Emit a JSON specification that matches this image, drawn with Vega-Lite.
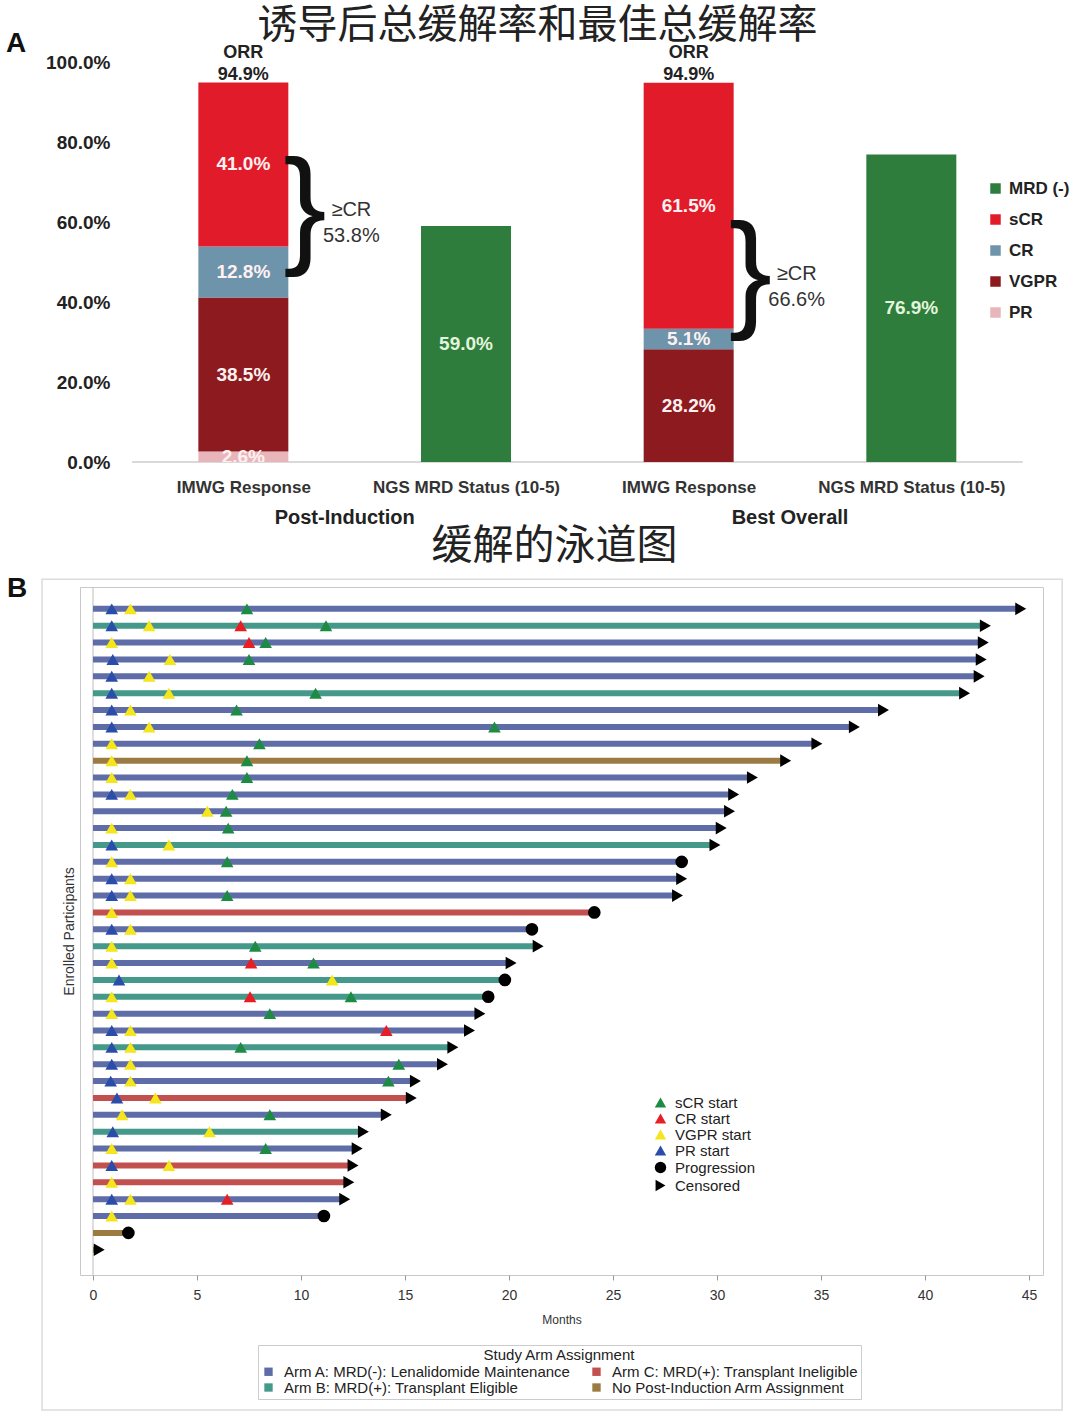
{
  "$schema": "https://vega.github.io/schema/vega-lite/v6.json",
  "background": "white",
  "padding": {"left": 6, "top": 6, "right": 0, "bottom": 0},
  "bounds": "flush",
  "center": false,
  "spacing": 125,
  "resolve": {"scale": {"color": "independent", "fill": "independent", "shape": "independent"}, "legend": {"color": "independent", "fill": "independent", "shape": "independent"}},
  "config": {"font": "Liberation Sans", "view": {"stroke": null}, "axis": {"grid": false}},
  "datasets": {
    "resp": [
      {"pos": 1, "cat": "PR", "ord": 1, "v": 0.026},
      {"pos": 1, "cat": "VGPR", "ord": 2, "v": 0.385},
      {"pos": 1, "cat": "CR", "ord": 3, "v": 0.128},
      {"pos": 1, "cat": "sCR", "ord": 4, "v": 0.410},
      {"pos": 2, "cat": "MRD (-)", "ord": 5, "v": 0.590},
      {"pos": 3, "cat": "VGPR", "ord": 2, "v": 0.282},
      {"pos": 3, "cat": "CR", "ord": 3, "v": 0.051},
      {"pos": 3, "cat": "sCR", "ord": 4, "v": 0.615},
      {"pos": 4, "cat": "MRD (-)", "ord": 5, "v": 0.769}
    ],
    "orr": [{"pos": 1, "v": 0.949}, {"pos": 3, "v": 0.949}],
    "braces": [{"pos": 1, "mid": 0.628, "pct": 0.538}, {"pos": 3, "mid": 0.4675, "pct": 0.666}],
    "groups": [{"pos": 1.5, "label": "Post-Induction"}, {"pos": 3.5, "label": "Best Overall"}],
    "subjects": [
      {"row": 1, "arm": "A", "end": 44.6}, {"row": 2, "arm": "B", "end": 42.9}, {"row": 3, "arm": "A", "end": 42.8},
      {"row": 4, "arm": "A", "end": 42.7}, {"row": 5, "arm": "A", "end": 42.6}, {"row": 6, "arm": "B", "end": 41.9},
      {"row": 7, "arm": "A", "end": 38.0}, {"row": 8, "arm": "A", "end": 36.6}, {"row": 9, "arm": "A", "end": 34.8},
      {"row": 10, "arm": "N", "end": 33.3}, {"row": 11, "arm": "A", "end": 31.7}, {"row": 12, "arm": "A", "end": 30.8},
      {"row": 13, "arm": "A", "end": 30.6}, {"row": 14, "arm": "A", "end": 30.2}, {"row": 15, "arm": "B", "end": 29.9},
      {"row": 16, "arm": "A", "end": 28.3}, {"row": 17, "arm": "A", "end": 28.3}, {"row": 18, "arm": "A", "end": 28.1},
      {"row": 19, "arm": "C", "end": 24.1}, {"row": 20, "arm": "A", "end": 21.1}, {"row": 21, "arm": "B", "end": 21.4},
      {"row": 22, "arm": "A", "end": 20.1}, {"row": 23, "arm": "B", "end": 19.8}, {"row": 24, "arm": "B", "end": 19.0},
      {"row": 25, "arm": "A", "end": 18.6}, {"row": 26, "arm": "A", "end": 18.1}, {"row": 27, "arm": "B", "end": 17.3},
      {"row": 28, "arm": "A", "end": 16.8}, {"row": 29, "arm": "A", "end": 15.5}, {"row": 30, "arm": "C", "end": 15.3},
      {"row": 31, "arm": "A", "end": 14.1}, {"row": 32, "arm": "B", "end": 13.0}, {"row": 33, "arm": "A", "end": 12.7},
      {"row": 34, "arm": "C", "end": 12.5}, {"row": 35, "arm": "C", "end": 12.3}, {"row": 36, "arm": "A", "end": 12.1},
      {"row": 37, "arm": "A", "end": 11.1}, {"row": 38, "arm": "N", "end": 1.7}, {"row": 39, "arm": "N", "end": 0.3}
    ],
    "events": [
      {"r": 1, "t": 0.9, "e": "PR"}, {"r": 1, "t": 1.8, "e": "VGPR"}, {"r": 1, "t": 7.4, "e": "sCR"}, {"r": 1, "t": 44.6, "e": "Cens"},
      {"r": 2, "t": 0.9, "e": "PR"}, {"r": 2, "t": 2.7, "e": "VGPR"}, {"r": 2, "t": 7.1, "e": "CR"}, {"r": 2, "t": 11.2, "e": "sCR"}, {"r": 2, "t": 42.9, "e": "Cens"},
      {"r": 3, "t": 0.9, "e": "VGPR"}, {"r": 3, "t": 7.5, "e": "CR"}, {"r": 3, "t": 8.3, "e": "sCR"}, {"r": 3, "t": 42.8, "e": "Cens"},
      {"r": 4, "t": 0.95, "e": "PR"}, {"r": 4, "t": 3.7, "e": "VGPR"}, {"r": 4, "t": 7.5, "e": "sCR"}, {"r": 4, "t": 42.7, "e": "Cens"},
      {"r": 5, "t": 0.9, "e": "PR"}, {"r": 5, "t": 2.7, "e": "VGPR"}, {"r": 5, "t": 42.6, "e": "Cens"},
      {"r": 6, "t": 0.9, "e": "PR"}, {"r": 6, "t": 3.65, "e": "VGPR"}, {"r": 6, "t": 10.7, "e": "sCR"}, {"r": 6, "t": 41.9, "e": "Cens"},
      {"r": 7, "t": 0.9, "e": "PR"}, {"r": 7, "t": 1.8, "e": "VGPR"}, {"r": 7, "t": 6.9, "e": "sCR"}, {"r": 7, "t": 38.0, "e": "Cens"},
      {"r": 8, "t": 0.9, "e": "PR"}, {"r": 8, "t": 2.7, "e": "VGPR"}, {"r": 8, "t": 19.3, "e": "sCR"}, {"r": 8, "t": 36.6, "e": "Cens"},
      {"r": 9, "t": 0.9, "e": "VGPR"}, {"r": 9, "t": 8.0, "e": "sCR"}, {"r": 9, "t": 34.8, "e": "Cens"},
      {"r": 10, "t": 0.9, "e": "VGPR"}, {"r": 10, "t": 7.4, "e": "sCR"}, {"r": 10, "t": 33.3, "e": "Cens"},
      {"r": 11, "t": 0.9, "e": "VGPR"}, {"r": 11, "t": 7.4, "e": "sCR"}, {"r": 11, "t": 31.7, "e": "Cens"},
      {"r": 12, "t": 0.9, "e": "PR"}, {"r": 12, "t": 1.8, "e": "VGPR"}, {"r": 12, "t": 6.7, "e": "sCR"}, {"r": 12, "t": 30.8, "e": "Cens"},
      {"r": 13, "t": 5.5, "e": "VGPR"}, {"r": 13, "t": 6.4, "e": "sCR"}, {"r": 13, "t": 30.6, "e": "Cens"},
      {"r": 14, "t": 0.9, "e": "VGPR"}, {"r": 14, "t": 6.5, "e": "sCR"}, {"r": 14, "t": 30.2, "e": "Cens"},
      {"r": 15, "t": 0.9, "e": "PR"}, {"r": 15, "t": 3.65, "e": "VGPR"}, {"r": 15, "t": 29.9, "e": "Cens"},
      {"r": 16, "t": 0.9, "e": "VGPR"}, {"r": 16, "t": 6.45, "e": "sCR"}, {"r": 16, "t": 28.3, "e": "Prog"},
      {"r": 17, "t": 0.9, "e": "PR"}, {"r": 17, "t": 1.8, "e": "VGPR"}, {"r": 17, "t": 28.3, "e": "Cens"},
      {"r": 18, "t": 0.9, "e": "PR"}, {"r": 18, "t": 1.8, "e": "VGPR"}, {"r": 18, "t": 6.45, "e": "sCR"}, {"r": 18, "t": 28.1, "e": "Cens"},
      {"r": 19, "t": 0.9, "e": "VGPR"}, {"r": 19, "t": 24.1, "e": "Prog"},
      {"r": 20, "t": 0.9, "e": "PR"}, {"r": 20, "t": 1.8, "e": "VGPR"}, {"r": 20, "t": 21.1, "e": "Prog"},
      {"r": 21, "t": 0.9, "e": "VGPR"}, {"r": 21, "t": 7.8, "e": "sCR"}, {"r": 21, "t": 21.4, "e": "Cens"},
      {"r": 22, "t": 0.9, "e": "VGPR"}, {"r": 22, "t": 7.6, "e": "CR"}, {"r": 22, "t": 10.6, "e": "sCR"}, {"r": 22, "t": 20.1, "e": "Cens"},
      {"r": 23, "t": 1.25, "e": "PR"}, {"r": 23, "t": 11.5, "e": "VGPR"}, {"r": 23, "t": 19.8, "e": "Prog"},
      {"r": 24, "t": 0.9, "e": "VGPR"}, {"r": 24, "t": 7.55, "e": "CR"}, {"r": 24, "t": 12.4, "e": "sCR"}, {"r": 24, "t": 19.0, "e": "Prog"},
      {"r": 25, "t": 0.9, "e": "VGPR"}, {"r": 25, "t": 8.5, "e": "sCR"}, {"r": 25, "t": 18.6, "e": "Cens"},
      {"r": 26, "t": 0.9, "e": "PR"}, {"r": 26, "t": 1.8, "e": "VGPR"}, {"r": 26, "t": 14.1, "e": "CR"}, {"r": 26, "t": 18.1, "e": "Cens"},
      {"r": 27, "t": 0.9, "e": "PR"}, {"r": 27, "t": 1.8, "e": "VGPR"}, {"r": 27, "t": 7.1, "e": "sCR"}, {"r": 27, "t": 17.3, "e": "Cens"},
      {"r": 28, "t": 0.9, "e": "PR"}, {"r": 28, "t": 1.8, "e": "VGPR"}, {"r": 28, "t": 14.7, "e": "sCR"}, {"r": 28, "t": 16.8, "e": "Cens"},
      {"r": 29, "t": 0.85, "e": "PR"}, {"r": 29, "t": 1.8, "e": "VGPR"}, {"r": 29, "t": 14.2, "e": "sCR"}, {"r": 29, "t": 15.5, "e": "Cens"},
      {"r": 30, "t": 1.15, "e": "PR"}, {"r": 30, "t": 3.0, "e": "VGPR"}, {"r": 30, "t": 15.3, "e": "Cens"},
      {"r": 31, "t": 1.4, "e": "VGPR"}, {"r": 31, "t": 8.5, "e": "sCR"}, {"r": 31, "t": 14.1, "e": "Cens"},
      {"r": 32, "t": 0.95, "e": "PR"}, {"r": 32, "t": 5.6, "e": "VGPR"}, {"r": 32, "t": 13.0, "e": "Cens"},
      {"r": 33, "t": 0.9, "e": "VGPR"}, {"r": 33, "t": 8.3, "e": "sCR"}, {"r": 33, "t": 12.7, "e": "Cens"},
      {"r": 34, "t": 0.9, "e": "PR"}, {"r": 34, "t": 3.65, "e": "VGPR"}, {"r": 34, "t": 12.5, "e": "Cens"},
      {"r": 35, "t": 0.9, "e": "VGPR"}, {"r": 35, "t": 12.3, "e": "Cens"},
      {"r": 36, "t": 0.9, "e": "PR"}, {"r": 36, "t": 1.8, "e": "VGPR"}, {"r": 36, "t": 6.45, "e": "CR"}, {"r": 36, "t": 12.1, "e": "Cens"},
      {"r": 37, "t": 0.9, "e": "VGPR"}, {"r": 37, "t": 11.1, "e": "Prog"},
      {"r": 38, "t": 1.7, "e": "Prog"},
      {"r": 39, "t": 0.3, "e": "Cens"}
    ]
  },
  "vconcat": [
    {
      "width": 963,
      "height": 400,
      "title": {"text": "诱导后总缓解率和最佳总缓解率", "font": "Noto Sans CJK SC", "fontSize": 40, "fontWeight": "normal", "color": "#222", "anchor": "middle", "frame": "group", "dx": -24, "offset": -16},
      "layer": [
        {
          "data": {"values": [{}]},
          "mark": {"type": "rule", "color": "#d9d9d9", "strokeWidth": 2},
          "encoding": {
            "x": {"datum": 0.5, "type": "quantitative", "scale": {"domain": [0.2889, 4.5689], "nice": false, "zero": false}},
            "x2": {"datum": 4.5},
            "y": {"datum": 0, "type": "quantitative"}
          }
        },
        {
          "data": {"name": "resp"},
          "transform": [{"stack": "v", "groupby": ["pos"], "sort": [{"field": "ord"}], "as": ["y0", "y1"]}],
          "mark": {"type": "bar", "size": 90},
          "encoding": {
            "x": {"field": "pos", "type": "quantitative",
              "axis": {"values": [1, 2, 3, 4], "labelExpr": "datum.value % 2 == 1 ? 'IMWG Response' : 'NGS MRD Status (10-5)'", "title": null, "domain": false, "ticks": false, "labelFontWeight": "bold", "labelFontSize": 17, "labelColor": "#333", "labelPadding": 17, "labelLimit": 400, "labelOverlap": false}},
            "y": {"field": "y0", "type": "quantitative", "scale": {"domain": [0, 1], "nice": false},
              "axis": {"values": [0, 0.1, 0.2, 0.3, 0.4, 0.5, 0.6, 0.7, 0.8, 0.9, 1.0], "format": ".1%", "title": null, "domain": false, "ticks": false, "labelFontWeight": "bold", "labelFontSize": 19, "labelColor": "#222", "offset": -30, "labelPadding": 0, "labelOverlap": false}},
            "y2": {"field": "y1"},
            "color": {"field": "cat", "type": "nominal",
              "scale": {"domain": ["MRD (-)", "sCR", "CR", "VGPR", "PR"], "range": ["#2E7D3C", "#E21B2A", "#6E94AB", "#8C1A1E", "#E8B6BA"]},
              "legend": {"title": null, "orient": "none", "legendX": 907, "legendY": 118, "symbolType": "square", "symbolSize": 110, "labelFontSize": 17, "labelFontWeight": "bold", "labelColor": "#222", "rowPadding": 13, "labelOffset": 5}}
          }
        },
        {
          "data": {"name": "resp"},
          "transform": [{"stack": "v", "groupby": ["pos"], "sort": [{"field": "ord"}], "as": ["y0", "y1"]}, {"calculate": "(datum.y0 + datum.y1) / 2", "as": "mid"}],
          "mark": {"type": "text", "fontWeight": "bold", "fontSize": 19, "baseline": "middle", "clip": true},
          "encoding": {
            "x": {"field": "pos", "type": "quantitative"},
            "y": {"field": "mid", "type": "quantitative"},
            "text": {"field": "v", "type": "quantitative", "format": ".1%"},
            "color": {"condition": {"test": "datum.cat === 'MRD (-)'", "value": "#e2f5dc"}, "value": "#fff1f1"}
          }
        },
        {
          "data": {"name": "orr"},
          "mark": {"type": "text", "fontWeight": "bold", "fontSize": 18, "baseline": "middle", "dy": -29, "color": "#222", "text": "ORR"},
          "encoding": {"x": {"field": "pos", "type": "quantitative"}, "y": {"field": "v", "type": "quantitative"}}
        },
        {
          "data": {"name": "orr"},
          "mark": {"type": "text", "fontWeight": "bold", "fontSize": 18, "baseline": "middle", "dy": -7, "color": "#222"},
          "encoding": {"x": {"field": "pos", "type": "quantitative"}, "y": {"field": "v", "type": "quantitative"}, "text": {"field": "v", "type": "quantitative", "format": ".1%"}}
        },
        {
          "data": {"name": "braces"},
          "mark": {"type": "text", "text": "}", "fontSize": 130, "align": "left", "baseline": "middle", "dx": 40, "color": "#111"},
          "encoding": {"x": {"field": "pos", "type": "quantitative"}, "y": {"field": "mid", "type": "quantitative"}}
        },
        {
          "data": {"name": "braces"},
          "mark": {"type": "text", "text": "≥CR", "fontSize": 20, "align": "center", "baseline": "middle", "dx": 108, "dy": -1, "color": "#333"},
          "encoding": {"x": {"field": "pos", "type": "quantitative"}, "y": {"field": "mid", "type": "quantitative"}}
        },
        {
          "data": {"name": "braces"},
          "mark": {"type": "text", "fontSize": 20, "align": "center", "baseline": "middle", "dx": 108, "dy": 25, "color": "#333"},
          "encoding": {"x": {"field": "pos", "type": "quantitative"}, "y": {"field": "mid", "type": "quantitative"}, "text": {"field": "pct", "type": "quantitative", "format": ".1%"}}
        },
        {
          "data": {"name": "groups"},
          "mark": {"type": "text", "fontSize": 20, "fontWeight": "bold", "align": "center", "baseline": "middle", "dx": -10, "color": "#222"},
          "encoding": {"x": {"field": "pos", "type": "quantitative"}, "y": {"datum": -0.14, "type": "quantitative"}, "text": {"field": "label"}}
        },
        {
          "data": {"values": [{}]},
          "mark": {"type": "text", "text": "A", "fontSize": 28, "fontWeight": "bold", "align": "center", "baseline": "middle", "color": "#111"},
          "encoding": {"x": {"datum": -0.02, "type": "quantitative"}, "y": {"datum": 1.045, "type": "quantitative"}}
        }
      ]
    },
    {
      "width": 963,
      "height": 688,
      "view": {"stroke": "#c8c8c8"},
      "title": {"text": "缓解的泳道图", "font": "Noto Sans CJK SC", "fontSize": 41, "fontWeight": "normal", "color": "#222", "anchor": "middle", "frame": "group", "dx": -7, "offset": 7},
      "layer": [
        {
          "data": {"values": [{}]},
          "mark": {"type": "rect", "fill": null, "stroke": "#dcdcdc", "strokeWidth": 1.5, "clip": false},
          "encoding": {
            "x": {"datum": -2.45, "type": "quantitative", "scale": {"domain": [-0.625, 45.67], "nice": false, "zero": false}},
            "x2": {"datum": 46.59},
            "y": {"datum": -0.76, "type": "quantitative", "scale": {"domain": [0, 40.2], "nice": false, "zero": false, "reverse": true}},
            "y2": {"datum": 48.5}
          }
        },
        {
          "data": {"values": [{}]},
          "mark": {"type": "rule", "color": "#bdbdbd", "strokeWidth": 1},
          "encoding": {"x": {"datum": 0, "type": "quantitative"}}
        },
        {
          "data": {"name": "subjects"},
          "mark": {"type": "bar", "size": 6},
          "encoding": {
            "x": {"field": "end", "type": "quantitative",
              "axis": {"values": [0, 5, 10, 15, 20, 25, 30, 35, 40, 45], "title": "Months", "titleFontSize": 12, "titleFontWeight": "normal", "titleColor": "#333", "titlePadding": 12, "labelFontSize": 14, "labelColor": "#333", "tickColor": "#999", "tickSize": 5, "domain": false, "labelPadding": 8}},
            "x2": {"datum": 0},
            "y": {"field": "row", "type": "quantitative",
              "axis": {"labels": false, "ticks": false, "domain": false, "title": "Enrolled Participants", "titleFontSize": 14, "titleFontWeight": "normal", "titleColor": "#333", "titlePadding": 4}},
            "color": {"field": "arm", "type": "nominal",
              "scale": {"domain": ["A", "C", "B", "N"], "range": ["#5E6CA8", "#C1504F", "#45998A", "#9C7B43"]},
              "legend": {"title": "Study Arm Assignment", "orient": "none", "legendX": 178, "legendY": 758, "columns": 2, "direction": "horizontal", "titleAnchor": "middle", "titleFontWeight": "normal", "titleFontSize": 15, "titleColor": "#222", "titlePadding": 1,
                "labelFontSize": 15, "labelColor": "#222", "labelLimit": 400, "symbolType": "square", "symbolSize": 70, "strokeColor": "#cccccc", "padding": 3, "columnPadding": 18, "rowPadding": 0, "labelOffset": 8,
                "labelExpr": "{'A': 'Arm A: MRD(-): Lenalidomide Maintenance', 'B': 'Arm B: MRD(+): Transplant Eligible', 'C': 'Arm C: MRD(+): Transplant Ineligible', 'N': 'No Post-Induction Arm Assignment'}[datum.value]"}}
          }
        },
        {
          "data": {"name": "events"},
          "mark": {"type": "point", "filled": true, "opacity": 1, "size": 160},
          "encoding": {
            "x": {"field": "t", "type": "quantitative"},
            "y": {"field": "r", "type": "quantitative"},
            "fill": {"field": "e", "type": "nominal",
              "scale": {"domain": ["sCR", "CR", "VGPR", "PR", "Prog", "Cens"], "range": ["#1E8B45", "#E81E25", "#F5E51B", "#2B4DAA", "#000000", "#000000"]},
              "legend": {"title": null, "orient": "none", "legendX": 573, "legendY": 508, "labelFontSize": 15, "labelColor": "#222", "symbolSize": 130, "rowPadding": -1, "labelOffset": 7,
                "labelExpr": "{'sCR': 'sCR start', 'CR': 'CR start', 'VGPR': 'VGPR start', 'PR': 'PR start', 'Prog': 'Progression', 'Cens': 'Censored'}[datum.value]"}},
            "shape": {"field": "e", "type": "nominal",
              "scale": {"domain": ["sCR", "CR", "VGPR", "PR", "Prog", "Cens"], "range": ["triangle-up", "triangle-up", "triangle-up", "triangle-up", "circle", "triangle-right"]},
              "legend": {"title": null, "orient": "none", "legendX": 573, "legendY": 508, "labelFontSize": 15, "labelColor": "#222", "symbolSize": 130, "rowPadding": -1, "labelOffset": 7,
                "labelExpr": "{'sCR': 'sCR start', 'CR': 'CR start', 'VGPR': 'VGPR start', 'PR': 'PR start', 'Prog': 'Progression', 'Cens': 'Censored'}[datum.value]"}}
          }
        },
        {
          "data": {"values": [{}]},
          "mark": {"type": "text", "text": "B", "fontSize": 28, "fontWeight": "bold", "align": "center", "baseline": "middle", "color": "#111"},
          "encoding": {"x": {"datum": -3.65, "type": "quantitative"}, "y": {"datum": -0.18, "type": "quantitative"}}
        }
      ]
    }
  ]
}
